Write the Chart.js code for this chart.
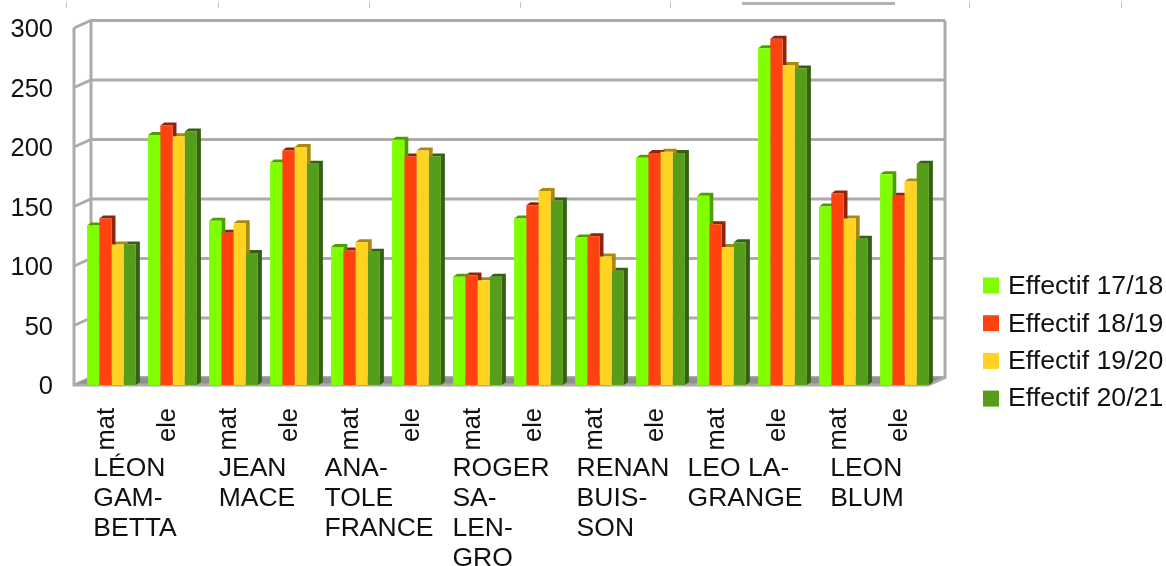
<!DOCTYPE html>
<html>
<head>
<meta charset="utf-8">
<style>
  html, body { margin: 0; padding: 0; background: #fff; }
  /* the reference is a soft screenshot */
  canvas { display: block; filter: blur(0.5px); }
</style>
<script src="https://cdn.jsdelivr.net/npm/chart.js@4"></script>
</head>
<body>
<canvas id="chart" width="1166" height="566"></canvas>
<script>
// Data
const levels = ["mat", "ele", "mat", "ele", "mat", "ele", "mat", "ele", "mat", "ele", "mat", "ele", "mat", "ele"];
const schools = [
  ["LÉON", "GAM-", "BETTA"],
  ["JEAN", "MACE"],
  ["ANA-", "TOLE", "FRANCE"],
  ["ROGER", "SA-", "LEN-", "GRO"],
  ["RENAN", "BUIS-", "SON"],
  ["LEO LA-", "GRANGE"],
  ["LEON", "BLUM"],
];
const effectif1718 = [134, 210, 138, 187, 116, 206, 91, 140, 124, 191, 159, 283, 150, 177];
const effectif1819 = [140, 218, 128, 197, 113, 192, 92, 151, 125, 195, 135, 291, 161, 159];
const effectif1920 = [118, 209, 136, 200, 120, 197, 88, 163, 108, 196, 116, 269, 140, 171];
const effectif2021 = [118, 213, 111, 186, 112, 192, 91, 155, 96, 195, 120, 266, 123, 186];
const seriesNames = ["Effectif 17/18", "Effectif 18/19", "Effectif 19/20", "Effectif 20/21"];
const yTicks = [0, 50, 100, 150, 200, 250, 300];

const colors = ["#7fff00", "#ff420e", "#ffd320", "#579d1c"];
const sideColors = ["#4f9e00", "#8f2508", "#a88a10", "#356112"];
const font = "Liberation Sans, Arial, sans-serif";

// the bars sit in the middle of the floor, so the front edge is left of them
const frontShift = 7;
const wallX = 17, wallY = 7.5; // front edge to back wall
const barX = 4, barY = 3;      // depth of a bar

// Wall, floor and gridlines behind the bars, then the depth of each bar
const chart3d = {
  id: "chart3d",
  beforeDatasetsDraw(chart) {
    const { ctx, chartArea: area, scales: { y } } = chart;
    const left = area.left - frontShift;
    const right = area.right - frontShift;

    ctx.save();
    ctx.strokeStyle = "#ababab";
    ctx.lineWidth = 3;
    yTicks.forEach((v) => {
      const py = y.getPixelForValue(v);
      ctx.beginPath();
      ctx.moveTo(left, py);
      ctx.lineTo(left + wallX, py - wallY);
      ctx.lineTo(right + wallX, py - wallY);
      ctx.stroke();
    });
    // floor
    const y0 = y.getPixelForValue(0);
    ctx.fillStyle = "#8f8f8f";
    ctx.beginPath();
    ctx.moveTo(left, y0);
    ctx.lineTo(left + wallX, y0 - wallY);
    ctx.lineTo(right + wallX, y0 - wallY);
    ctx.lineTo(right, y0);
    ctx.closePath();
    ctx.fill();
    // uprights
    const y300 = y.getPixelForValue(300);
    ctx.beginPath();
    ctx.moveTo(left, y300);
    ctx.lineTo(left, y0);
    ctx.lineTo(right, y0);
    ctx.lineTo(right + wallX, y0 - wallY);
    ctx.lineTo(right + wallX, y300 - wallY);
    ctx.moveTo(left + wallX, y300 - wallY);
    ctx.lineTo(left + wallX, y0 - wallY);
    ctx.stroke();

    // right-hand datasets first so the side of a taller left bar stays on top
    for (let d = chart.data.datasets.length - 1; d >= 0; d--) {
      ctx.fillStyle = sideColors[d];
      chart.getDatasetMeta(d).data.forEach((bar) => {
        const r = bar.x + bar.width / 2;
        const l = bar.x - bar.width / 2;
        ctx.beginPath();
        ctx.moveTo(l, bar.y);
        ctx.lineTo(l + barX, bar.y - barY);
        ctx.lineTo(r + barX, bar.y - barY);
        ctx.lineTo(r + barX, bar.base - barY);
        ctx.lineTo(r, bar.base);
        ctx.lineTo(r, bar.y);
        ctx.closePath();
        ctx.fill();
      });
    }
    ctx.restore();
  },
  // School names under each mat/ele pair, and the legend
  afterDraw(chart) {
    const { ctx, scales: { x } } = chart;
    ctx.save();
    ctx.fillStyle = "#111";
    ctx.textBaseline = "middle";
    ctx.textAlign = "left";
    ctx.font = "26.5px " + font;
    schools.forEach((lines, i) => {
      const centre = (x.getPixelForValue(i * 2) + x.getPixelForValue(i * 2 + 1)) / 2 - frontShift;
      const w = Math.max(...lines.map((t) => ctx.measureText(t).width));
      lines.forEach((t, n) => ctx.fillText(t, centre - w / 2, 469 + n * 30));
    });

    ctx.font = "26.7px " + font;
    chart.data.datasets.forEach((ds, i) => {
      ctx.fillStyle = ds.backgroundColor;
      ctx.fillRect(983, 277.5 + i * 37.7, 16, 16);
      ctx.fillStyle = "#111";
      ctx.fillText(ds.label, 1008, 287 + i * 37.3);
    });

    // leftovers of the ruler along the top edge of the screenshot
    ctx.fillStyle = "#c4c4c4";
    [66, 218, 369, 520, 670, 969, 1121].forEach((mx) => ctx.fillRect(mx, 2, 1, 6));
    ctx.fillStyle = "#b4b4b4";
    ctx.fillRect(742, 2, 153, 3);
    ctx.restore();
  },
};

new Chart(document.getElementById("chart"), {
  type: "bar",
  data: {
    labels: levels,
    datasets: [effectif1718, effectif1819, effectif1920, effectif2021].map((values, i) => ({
      label: seriesNames[i],
      data: values,
      backgroundColor: colors[i],
      borderWidth: 0,
      categoryPercentage: 0.8,
      barPercentage: 1,
    })),
  },
  plugins: [chart3d],
  options: {
    responsive: false,
    animation: false,
    layout: { padding: { left: 0, top: 28, right: 231, bottom: 0 } },
    plugins: { legend: { display: false }, tooltip: { enabled: false } },
    scales: {
      x: {
        grid: { display: false },
        border: { display: false },
        afterFit(s) {
          s.height = 181;
          s.paddingLeft = 0;
          s.paddingRight = 0;
        },
        ticks: {
          minRotation: 90,
          maxRotation: 90,
          autoSkip: false,
          labelOffset: -5,
          padding: 15,
          color: "#111",
          font: { family: font, size: 25.5 },
        },
      },
      y: {
        min: 0,
        max: 300,
        grid: { display: false },
        border: { display: false },
        afterFit(s) {
          s.width = 81;
          s.paddingTop = 0;
          s.paddingBottom = 0;
        },
        afterBuildTicks(s) {
          s.ticks = yTicks.map((v) => ({ value: v }));
        },
        ticks: {
          padding: 20,
          labelOffset: 2,
          color: "#111",
          font: { family: font, size: 25.5 },
        },
      },
    },
  },
});
</script>
</body>
</html>
